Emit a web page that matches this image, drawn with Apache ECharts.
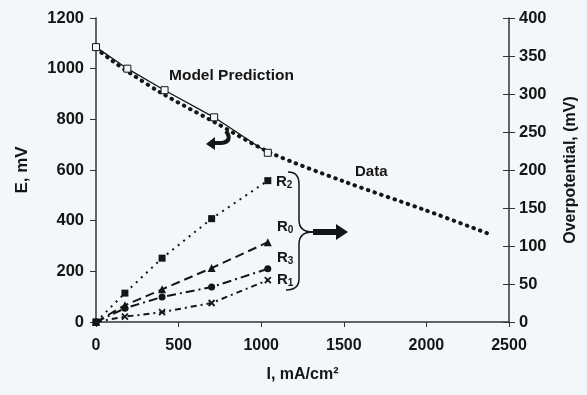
<!DOCTYPE html>
<html>
<head>
<meta charset="utf-8">
<script src="https://cdn.jsdelivr.net/npm/echarts@6/dist/echarts.min.js"></script>
<style>
html,body{margin:0;padding:0;background:#f3f7f9;}
#c{width:587px;height:395px;}
</style>
</head>
<body>
<div id="c"></div>
<script>
// Current density, mA/cm2 and cell potential E, mV (left axis)
const modelI = [0, 190, 415, 715, 1040];
const modelE = [1085, 1000, 915, 808, 668];
const dataI = [0, 100, 200, 400, 700, 1050, 1500, 2000, 2370];
const dataE = [1080, 1030, 985, 902, 795, 670, 555, 440, 350];
// Overpotential, mV (right axis)
const rI = [0, 175, 400, 700, 1040];
const R2 = [0, 38, 84, 136, 186];
const R0 = [0, 22, 43, 71, 105];
const R3 = [0, 18, 33, 46, 70];
const R1 = [0, 7, 13, 25, 55];
const xTicks = [0, 500, 1000, 1500, 2000, 2500];

const pair = (xs, ys) => xs.map((x, i) => [x, ys[i]]);
const F = 'Liberation Sans, Arial, sans-serif';
const ink = '#151515';

const chart = echarts.init(document.getElementById('c'), null, {renderer: 'canvas'});
const rSeries = (name, ys, sym, size, dash) => ({
  name, type: 'line', yAxisIndex: 1, data: pair(rI, ys),
  symbol: sym, symbolSize: size, showSymbol: true,
  lineStyle: {color: ink, width: 2, type: dash, cap: 'butt'},
  itemStyle: {color: ink, borderColor: ink, borderWidth: sym.startsWith('path') ? 1.8 : 0},
  z: 3, animation: false
});
const stroke = {fill: 'none', stroke: ink, lineWidth: 1.5};
const sub = n => ({type: 'text', style: {text: '{a|R}{b|' + n + '}', rich: {a: {font: 'bold 15px ' + F, fill: ink}, b: {font: 'bold 10px ' + F, fill: ink, padding: [8, 0, 0, 0]}}}});
const plain = v => String(v);

chart.setOption({
  backgroundColor: '#f3f7f9',
  animation: false,
  grid: {left: 96, right: 75, top: 18, bottom: 73},
  xAxis: {
    type: 'value', min: 0, max: 2500, interval: 500,
    name: 'I, mA/cm²', nameLocation: 'middle', nameGap: 45,
    nameTextStyle: {fontFamily: F, fontWeight: 'bold', fontSize: 16, color: ink},
    axisLine: {lineStyle: {color: '#333', width: 1.5}},
    axisTick: {show: true, length: 5, lineStyle: {color: '#333'}},
    axisLabel: {fontFamily: F, fontWeight: 'bold', fontSize: 16, color: ink, margin: 16,
      formatter: v => xTicks.includes(v) ? String(v) : ''},
    splitLine: {show: false}
  },
  yAxis: [
    {
      type: 'value', min: 0, max: 1200, interval: 200, position: 'left',
      name: 'E, mV', nameLocation: 'middle', nameGap: 65, nameRotate: 90,
      nameTextStyle: {fontFamily: F, fontWeight: 'bold', fontSize: 17, color: ink},
      axisLine: {show: true, lineStyle: {color: '#333', width: 1.5}},
      axisTick: {show: true, length: 6, lineStyle: {color: '#333'}},
      axisLabel: {fontFamily: F, fontWeight: 'bold', fontSize: 16.5, color: ink, margin: 12, formatter: plain},
      splitLine: {show: false}
    },
    {
      type: 'value', min: 0, max: 400, interval: 50, position: 'right',
      name: 'Overpotential, (mV)', nameLocation: 'middle', nameGap: 54, nameRotate: 90,
      nameTextStyle: {fontFamily: F, fontWeight: 'bold', fontSize: 16, color: ink},
      axisLine: {show: true, lineStyle: {color: '#333', width: 1.5}},
      axisTick: {show: true, length: 6, lineStyle: {color: '#333'}},
      axisLabel: {fontFamily: F, fontWeight: 'bold', fontSize: 16.5, color: ink, margin: 10, formatter: plain},
      splitLine: {show: false}
    },
    {
      type: 'value', min: 0, max: 400, interval: 50, position: 'right',
      axisLine: {show: false},
      axisTick: {show: true, inside: true, length: 6, lineStyle: {color: '#333'}},
      axisLabel: {show: false},
      splitLine: {show: false}
    }
  ],
  series: [
    {
      name: 'Data', type: 'line', data: pair(dataI, dataE), smooth: 0.3,
      showSymbol: false, symbol: 'none',
      lineStyle: {color: ink, width: 4, type: [0.5, 6.5], cap: 'round'}, z: 2
    },
    {
      name: 'Model Prediction', type: 'line', data: pair(modelI, modelE),
      symbol: 'rect', symbolSize: 7, showSymbol: true,
      lineStyle: {color: ink, width: 1.3},
      itemStyle: {color: '#f4f7f7', borderColor: ink, borderWidth: 1}, z: 3
    },
    rSeries('R2', R2, 'rect', 7, [2, 5]),
    rSeries('R0', R0, 'triangle', 8, [9, 5]),
    rSeries('R3', R3, 'circle', 7, [9, 4, 2, 4]),
    rSeries('R1', R1, 'path://M0,0L10,10M10,0L0,10', 6, [6, 4, 2, 4])
  ],
  graphic: [
    {type: 'text', left: 169, top: 68, style: {text: 'Model Prediction', font: 'bold 15.5px ' + F, fill: ink}},
    {type: 'text', left: 355, top: 164, style: {text: 'Data', font: 'bold 15px ' + F, fill: ink}},
    Object.assign(sub(2), {left: 276, top: 174}),
    Object.assign(sub(0), {left: 277, top: 219}),
    Object.assign(sub(3), {left: 277, top: 250}),
    Object.assign(sub(1), {left: 277, top: 272}),
    {type: 'bezierCurve', shape: {x1: 288, y1: 172, cpx1: 299, cpy1: 172, x2: 299, y2: 184}, style: stroke},
    {type: 'line', shape: {x1: 299, y1: 184, x2: 299, y2: 220}, style: stroke},
    {type: 'bezierCurve', shape: {x1: 299, y1: 220, cpx1: 299, cpy1: 232, x2: 313, y2: 232}, style: stroke},
    {type: 'bezierCurve', shape: {x1: 313, y1: 232, cpx1: 299, cpy1: 232, x2: 299, y2: 244}, style: stroke},
    {type: 'line', shape: {x1: 299, y1: 244, x2: 299, y2: 279}, style: stroke},
    {type: 'bezierCurve', shape: {x1: 299, y1: 279, cpx1: 299, cpy1: 290, x2: 286, y2: 290}, style: stroke},
    {type: 'polygon', shape: {points: [[313, 229], [336, 229], [336, 224], [348, 232], [336, 240], [336, 235], [313, 235]]},
      style: {fill: ink}},
    {type: 'bezierCurve', shape: {x1: 226, y1: 131, cpx1: 233, cpy1: 141, x2: 222, y2: 143}, style: {fill: 'none', stroke: ink, lineWidth: 4}},
    {type: 'line', shape: {x1: 222, y1: 143, x2: 214, y2: 143}, style: {stroke: ink, lineWidth: 4}},
    {type: 'polygon', shape: {points: [[206, 144], [215, 137], [215, 150]]}, style: {fill: ink}}
  ]
});
</script>
</body>
</html>
